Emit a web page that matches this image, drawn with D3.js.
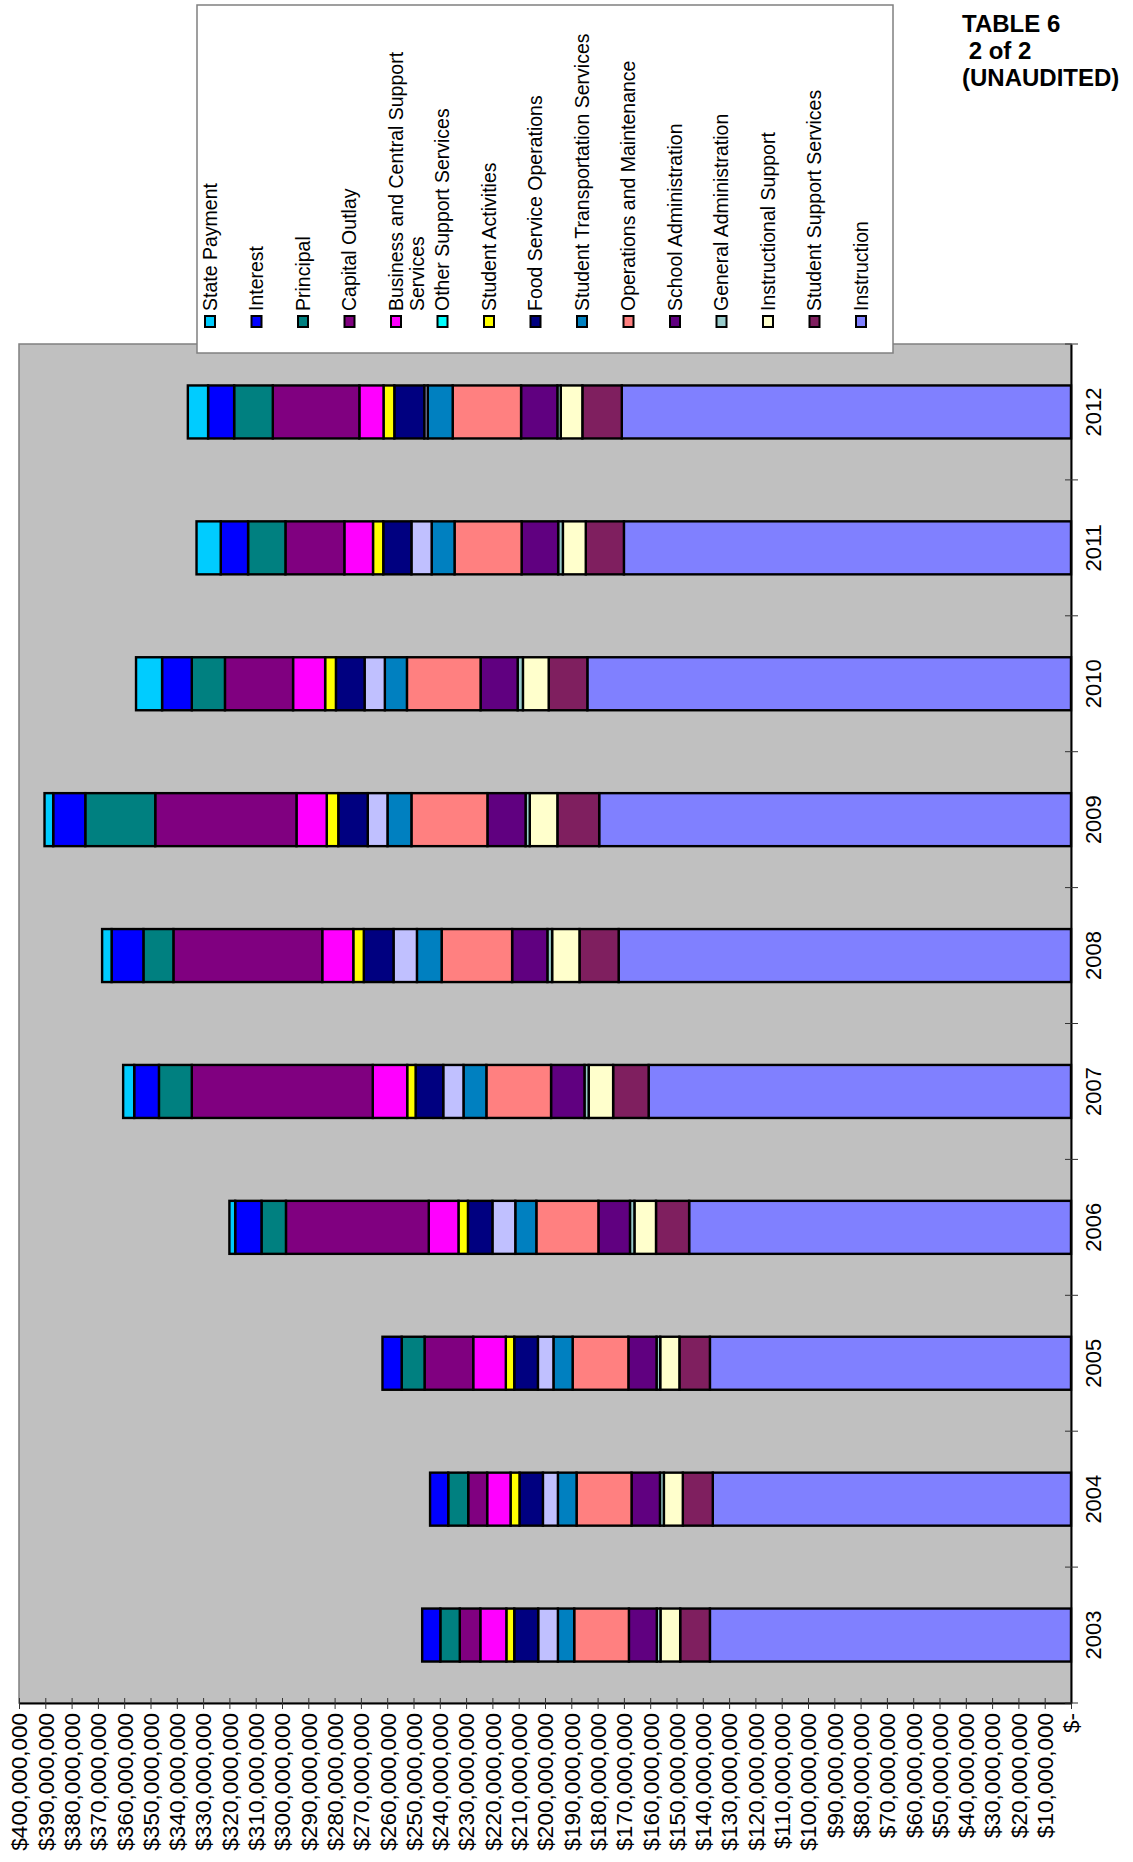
<!DOCTYPE html>
<html><head><meta charset="utf-8">
<script src="https://cdn.jsdelivr.net/npm/d3@7"></script>
<style>
body{margin:0;background:#fff;}
svg{display:block;font-family:"Liberation Sans",Arial,sans-serif;}
</style>
</head><body>
<svg id="chart" width="1133" height="1862"></svg>
<script>
// ---- DATA (values in millions of dollars) ----
const years = [2003, 2004, 2005, 2006, 2007, 2008, 2009, 2010, 2011, 2012];

const instruction          = [137.3, 136.2, 137.3, 145.2, 160.6, 172.0, 179.4, 183.9, 170.0, 170.8];
const studentSupport       = [11.3, 11.4, 11.6, 12.6, 13.5, 14.9, 15.9, 14.7, 14.5, 15.0];
const instructionalSupport = [7.5, 7.2, 7.3, 8.2, 9.3, 10.4, 10.5, 9.8, 8.7, 8.2];
const generalAdmin         = [1.4, 1.5, 1.4, 1.7, 1.6, 1.8, 1.6, 2.0, 1.8, 1.3];
const schoolAdmin          = [10.6, 10.8, 10.7, 12.0, 12.7, 13.4, 14.5, 14.1, 13.9, 13.8];
const operations           = [20.8, 20.9, 21.2, 23.6, 24.6, 26.8, 28.9, 28.0, 25.5, 26.0];
const studentTransport     = [6.2, 7.1, 7.3, 8.0, 8.7, 9.4, 9.1, 8.4, 8.7, 9.5];
const otherSupport         = [7.5, 5.7, 5.9, 8.7, 7.7, 8.9, 7.5, 7.7, 7.7, 1.3];
const foodService          = [9.1, 8.9, 9.0, 9.3, 10.5, 11.3, 11.2, 10.9, 10.7, 11.4];
const studentActivities    = [3.0, 3.4, 3.2, 3.6, 3.2, 4.0, 4.4, 4.1, 3.9, 4.1];
const businessCentral      = [9.9, 8.9, 12.4, 11.3, 13.1, 11.8, 11.5, 12.2, 10.9, 9.2];
const capitalOutlay        = [7.8, 7.2, 18.5, 54.3, 68.8, 56.6, 53.7, 25.9, 22.4, 32.9];
const principal            = [7.4, 7.6, 8.7, 9.3, 12.5, 11.4, 26.6, 12.6, 14.2, 14.7];
const interest             = [6.9, 6.9, 7.3, 10.0, 9.4, 12.1, 12.2, 11.3, 10.4, 9.9];
const statePayment         = [0, 0, 0, 2.2, 4.2, 3.6, 3.3, 9.9, 9.2, 7.7];

// stacking order, from the axis origin outward
const stackKeys = ["Instruction","Student Support Services","Instructional Support","General Administration",
  "School Administration","Operations and Maintenance","Student Transportation Services","Other Support Services",
  "Food Service Operations","Student Activities","Business and Central Support Services","Capital Outlay",
  "Principal","Interest","State Payment"];
const stackValues = [instruction, studentSupport, instructionalSupport, generalAdmin, schoolAdmin, operations,
  studentTransport, otherSupport, foodService, studentActivities, businessCentral, capitalOutlay,
  principal, interest, statePayment];
const stackColors = ["#8080FF","#7F1F5F","#FFFFCC","#99CCCC","#600080","#FF8080","#0080C0","#C0C0FF",
  "#000080","#FFFF00","#FF00FF","#800080","#008080","#0000FF","#00CCFF"];

// legend, left to right
const legendLabels = [["State Payment"],["Interest"],["Principal"],["Capital Outlay"],
  ["Business and Central Support","Services"],["Other Support Services"],["Student Activities"],
  ["Food Service Operations"],["Student Transportation Services"],["Operations and Maintenance"],
  ["School Administration"],["General Administration"],["Instructional Support"],
  ["Student Support Services"],["Instruction"]];
const legendColors = ["#00CCFF","#0000FF","#008080","#800080","#FF00FF","#00FFFF","#FFFF00","#000080",
  "#0080C0","#FF8080","#600080","#99CCCC","#FFFFCC","#7F1F5F","#8080FF"];

const titleLines = ["TABLE 6", " 2 of 2", "(UNAUDITED)"];
const valueTicks = d3.range(0, 401, 10);

// ---- DRAW ----
const svg = d3.select("#chart");
const plot = {left: 19, right: 1071, top: 344, bottom: 1703};

const x = d3.scaleLinear().domain([0, 400]).range([plot.right, plot.left]);
const y = d3.scaleBand().domain(years.slice().reverse()).range([plot.top, plot.bottom])
  .paddingInner(0.61).paddingOuter(0.305);

svg.append("rect").attr("x", plot.left).attr("y", plot.top)
  .attr("width", plot.right - plot.left).attr("height", plot.bottom - plot.top)
  .attr("fill", "#C0C0C0").attr("stroke", "#808080").attr("stroke-width", 1.5);

const table = years.map((yr, i) => {
  const row = {year: yr};
  stackKeys.forEach((k, j) => row[k] = stackValues[j][i]);
  return row;
});
const stacked = d3.stack().keys(stackKeys)(table);

svg.append("g").selectAll("g").data(stacked).join("g")
  .attr("fill", (d, i) => stackColors[i])
  .selectAll("rect").data(d => d).join("rect")
  .attr("x", d => x(d[1]))
  .attr("y", d => y(d.data.year))
  .attr("width", d => x(d[0]) - x(d[1]))
  .attr("height", y.bandwidth())
  .attr("stroke", "#000").attr("stroke-width", 2.4);

// value axis (bottom)
const fmt = d => d === 0 ? "$-" : "$" + d3.format(",")(d * 1e6);
const gx = svg.append("g").attr("transform", `translate(0,${plot.bottom})`)
  .call(d3.axisBottom(x).tickValues(valueTicks).tickFormat(fmt).tickSizeOuter(0));
gx.select(".domain").attr("stroke", "#000").attr("stroke-width", 2);
gx.selectAll(".tick line").attr("y1", -5).attr("y2", 6).attr("stroke", "#333");
gx.selectAll(".tick text")
  .attr("transform", "rotate(-90)")
  .attr("text-anchor", "end").attr("x", -10).attr("y", 0).attr("dy", "0.35em")
  .attr("font-size", 22.5).attr("font-family", "Liberation Sans, Arial, sans-serif").attr("fill", "#000");

// category axis (right)
const gy = svg.append("g").attr("transform", `translate(${plot.right},0)`)
  .call(d3.axisRight(y).tickSize(0).tickSizeOuter(0));
gy.select(".domain").attr("stroke", "#000").attr("stroke-width", 2);
gy.selectAll(".tick text")
  .attr("transform", "translate(22,0) rotate(-90)")
  .attr("x", 0).attr("y", 0).attr("dy", "0.35em").attr("text-anchor", "middle")
  .attr("font-size", 22).attr("font-family", "Liberation Sans, Arial, sans-serif").attr("fill", "#000");
gy.selectAll(".bnd").data(d3.range(years.length + 1)).join("line").attr("class", "bnd")
  .attr("x1", -6).attr("x2", 7)
  .attr("y1", k => plot.top + k * y.step()).attr("y2", k => plot.top + k * y.step())
  .attr("stroke", "#333").attr("stroke-width", 1);

// legend
const lg = svg.append("g");
lg.append("rect").attr("x", 197).attr("y", 5).attr("width", 696).attr("height", 348)
  .attr("fill", "#fff").attr("stroke", "#808080").attr("stroke-width", 1.5);
const entry = lg.selectAll("g.e").data(legendLabels).join("g").attr("class", "e")
  .attr("transform", (d, i) => `translate(${210 + i * 46.5},0)`);
entry.append("rect").attr("x", -5).attr("y", 316).attr("width", 10).attr("height", 11)
  .attr("fill", (d, i) => legendColors[i]).attr("stroke", "#000").attr("stroke-width", 2);
entry.each(function(lines) {
  d3.select(this).selectAll("text").data(lines).join("text")
    .attr("transform", (t, k) => `translate(${k * 21},311) rotate(-90)`)
    .attr("x", 0).attr("y", 0).attr("dy", "0.35em").attr("text-anchor", "start")
    .attr("font-size", 19.5).attr("fill", "#000").text(t => t);
});

// title
svg.append("g").selectAll("text").data(titleLines).join("text")
  .attr("x", 962).attr("y", (d, i) => 32 + i * 27)
  .attr("font-size", 24).attr("font-weight", "bold").attr("fill", "#000")
  .attr("xml:space", "preserve").style("white-space", "pre")
  .text(d => d);
</script>
</body></html>
